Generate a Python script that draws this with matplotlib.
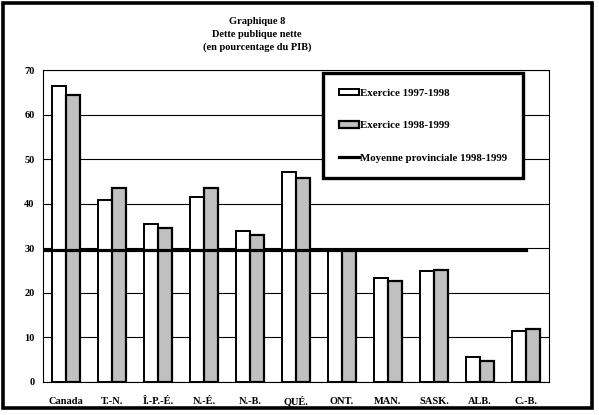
import numpy as np
import matplotlib
matplotlib.use("Agg")
import matplotlib.pyplot as plt
from matplotlib.patches import Patch, Rectangle
from matplotlib.lines import Line2D

provinces = ["Canada", "T.-N.", "Î.-P.-É.", "N.-É.", "N.-B.", "QUÉ.",
             "ONT.", "MAN.", "SASK.", "ALB.", "C.-B."]
dette_9798 = [66.5, 40.8, 35.4, 41.4, 33.8, 47.1, 29.9, 23.3, 24.8, 5.6, 11.3]
dette_9899 = [64.4, 43.4, 34.6, 43.4, 32.9, 45.7, 29.5, 22.7, 25.1, 4.6, 11.8]
moyenne_9899 = 29.5
yticks = [0, 10, 20, 30, 40, 50, 60, 70]

plt.rcParams["font.family"] = ["Liberation Serif", "DejaVu Serif"]
plt.rcParams["font.weight"] = "bold"
fs = 7.5

fig = plt.figure(figsize=(5.99, 4.15), dpi=100)
ax = fig.add_axes([43 / 599, 1 - 381.7 / 415, (549 - 43) / 599, (381.7 - 70) / 415])

x = np.arange(len(provinces))
w = 0.3
ax.bar(x - w / 2, dette_9798, w, color="white", edgecolor="black", linewidth=1.4, zorder=3)
ax.bar(x + w / 2, dette_9899, w, color="#c0c0c0", edgecolor="black", linewidth=1.6, zorder=3)
ax.plot([-0.5, len(provinces) - 1], [moyenne_9899, moyenne_9899], color="black", lw=2.3, zorder=4)

ax.set_xlim(-0.5, len(provinces) - 0.5)
ax.set_ylim(0, 70)
ax.tick_params(axis="both", length=0)
ax.tick_params(axis="y", pad=6)
ax.set_yticks(yticks)
ax.set_yticklabels([str(t) for t in yticks], fontsize=fs, fontweight="bold")
ax.set_xticks(x)
ax.set_xticklabels([])
# category labels on a common baseline (accents would shift top-aligned tick labels)
for xi, name in zip(x, provinces):
    ax.text(xi, -0.0715, name, transform=ax.get_xaxis_transform(), ha="center",
            va="baseline", fontsize=fs, fontweight="bold")
ax.grid(axis="y", color="black", linewidth=0.8, zorder=0)
for s in ax.spines.values():
    s.set_linewidth(0.8)
    s.set_color("black")

handles = [Patch(facecolor="white", edgecolor="black", linewidth=1.4),
           Patch(facecolor="#c0c0c0", edgecolor="black", linewidth=1.6),
           Line2D([], [], color="black", lw=2.3)]
labels = ["Exercice 1997-1998", "Exercice 1998-1999", "Moyenne provinciale 1998-1999"]
leg = ax.legend(handles, labels, loc="upper left", bbox_to_anchor=(323 / 599, 1 - 73 / 415),
                bbox_transform=fig.transFigure, fontsize=7.8, frameon=True, fancybox=False,
                borderpad=1.45, labelspacing=2.15, handlelength=1.85, handleheight=0.55,
                handletextpad=0.1, borderaxespad=0)
leg.get_frame().set_edgecolor("black")
leg.get_frame().set_linewidth(2.4)
leg.get_frame().set_alpha(None)
leg.get_frame().set_facecolor("white")
leg.set_zorder(10)

fig.text(257 / 599, 1 - 34.5 / 415, "Graphique 8\nDette publique nette\n(en pourcentage du PIB)",
         ha="center", va="center", fontsize=fs, fontweight="bold", linespacing=1.45)

fig.patches.append(Rectangle((3 / 599, 1 - 408 / 415), 589 / 599, 405 / 415,
                             transform=fig.transFigure, fill=False, edgecolor="black",
                             linewidth=2.6, figure=fig))

fig.savefig("out.png", dpi=100)
